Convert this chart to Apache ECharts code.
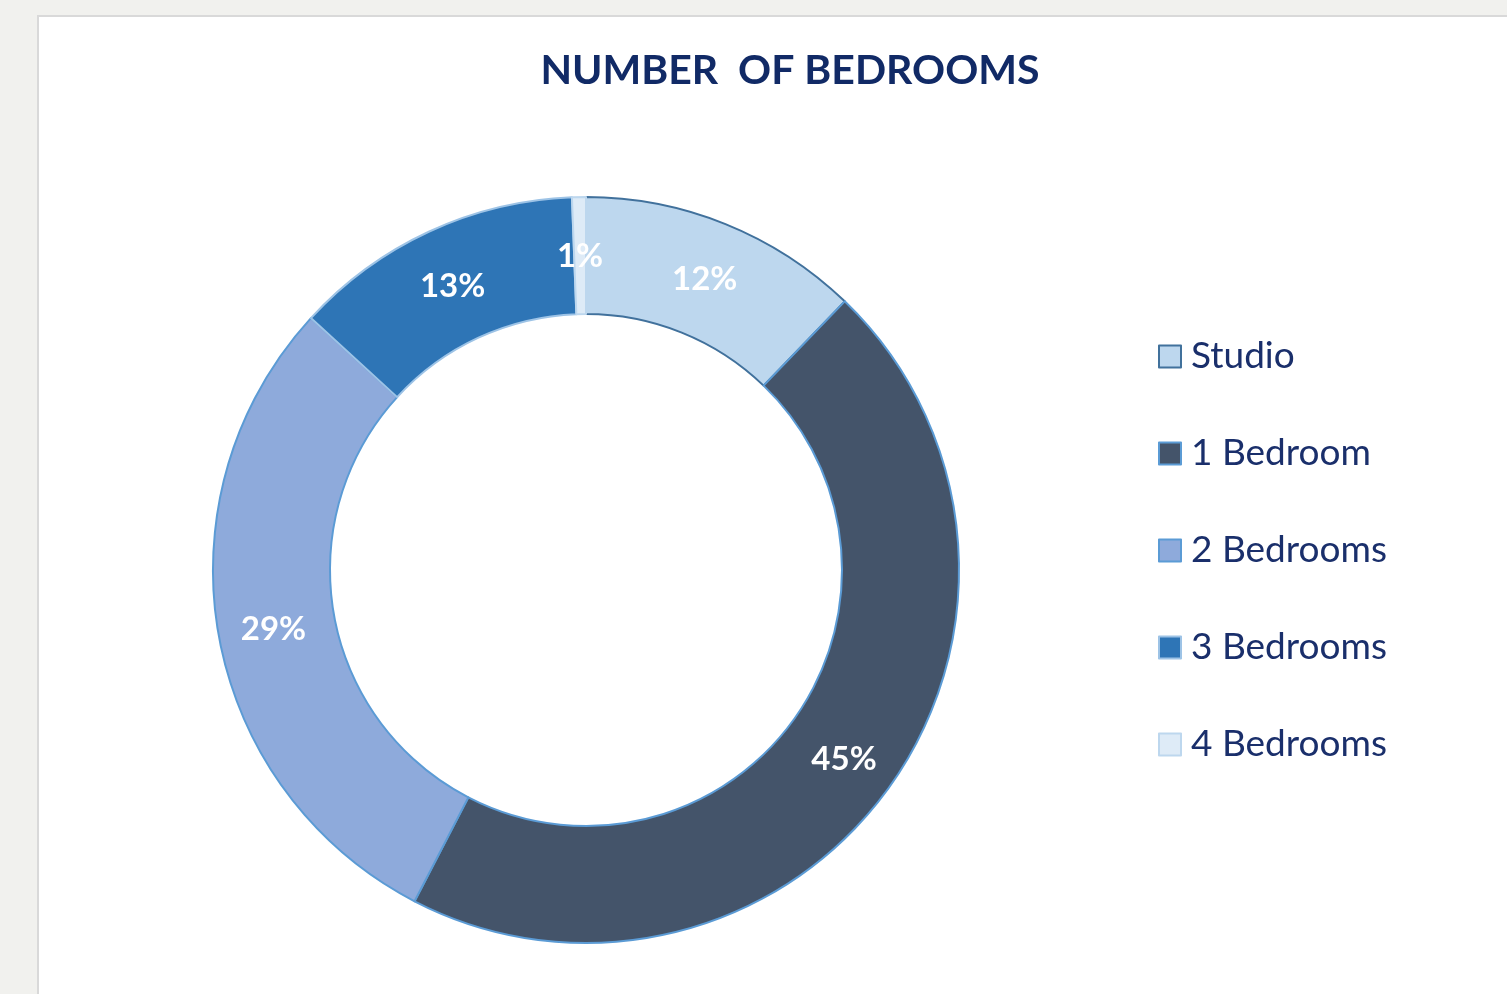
<!DOCTYPE html>
<html>
<head>
<meta charset="utf-8">
<script src="https://cdn.jsdelivr.net/npm/echarts@6/dist/echarts.min.js"></script>
<style>
  html, body { margin: 0; padding: 0; width: 1507px; height: 994px; overflow: hidden; background: #f1f1ee; }
  #panel { position: absolute; left: 37px; top: 15px; width: 1470px; height: 979px; background: #fff;
           border-left: 2px solid #d9d9d9; border-top: 2px solid #d9d9d9; }
  #chart { position: absolute; left: 0; top: 0; width: 1507px; height: 994px; }
</style>
</head>
<body>
<div id="panel"></div>
<div id="chart"></div>
<script>
// categories and shares (%)
const categories = ['Studio', '1 Bedroom', '2 Bedrooms', '3 Bedrooms', '4 Bedrooms']
const shares = [12.2, 45.4, 29.2, 12.6, 0.6]
const fillColors = ['#bdd7ee', '#44546a', '#8eaadb', '#2e75b6', '#deebf7']
const edgeColors = ['#41719c', '#5b9bd5', '#5b9bd5', '#9dc3e6', '#bdd7ee']

const font = 'Lato, "Open Sans", sans-serif'

let chart = echarts.init(document.getElementById('chart'))
let option = {
    backgroundColor: 'transparent',
    animation: false,
    title: {
        text: 'NUMBER  OF BEDROOMS',
        left: 785,
        textAlign: 'center',
        top: 45,
        textStyle: { color: '#112a66', fontSize: 41, fontWeight: 'bold', fontFamily: font }
    },
    legend: {
        orient: 'vertical',
        left: 1158,
        top: 338,
        padding: 0,
        icon: 'rect',
        itemWidth: 22,
        itemHeight: 22,
        itemGap: 60,
        textStyle: { color: '#1a2f6b', fontSize: 37, fontFamily: font, lineHeight: 32, padding: [0, 0, 0, 5] },
        data: categories
    },
    series: [{
        name: 'Bedrooms',
        type: 'pie',
        center: [586, 570],
        radius: [256, 373],
        startAngle: 90,
        clockwise: true,
        data: categories.map((c, i) => ({
            name: c,
            value: shares[i],
            itemStyle: { color: fillColors[i], borderColor: edgeColors[i], borderWidth: 2 }
        })),
        label: {
            position: 'inside',
            color: '#fff',
            fontSize: 33,
            fontWeight: 'bold',
            fontFamily: font,
            formatter: p => Math.round(p.percent) + '%'
        },
        labelLayout: { dy: 4 },
        labelLine: { show: false },
        emphasis: { disabled: true }
    }]
}
chart.setOption(option)
</script>
</body>
</html>
